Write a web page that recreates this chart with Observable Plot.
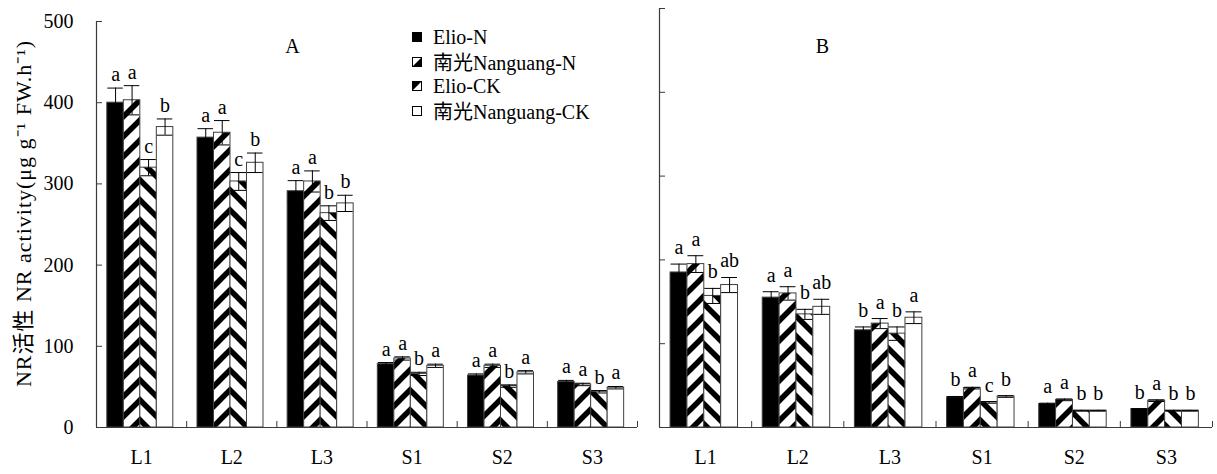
<!DOCTYPE html>
<html>
<head>
<meta charset="utf-8">
<script src="https://cdn.jsdelivr.net/npm/d3@7"></script>
<script src="https://cdn.jsdelivr.net/npm/@observablehq/plot@0.6"></script>
<style>
  body { margin: 0; background: #fff; }
  #wrap { position: relative; width: 1217px; height: 474px; overflow: hidden;
          font-family: "Liberation Serif", "Times New Roman", "Noto Sans CJK SC", serif; color: #000; }
  #wrap > svg.panel { position: absolute; top: 0; }
  .legend { position: absolute; left: 412px; top: 25px; font-size: 20px; }
  .legend .row { display: flex; align-items: center; height: 24.5px; white-space: nowrap; }
  .legend .row svg { margin-right: 11px; flex: none; }
</style>
</head>
<body>
<svg width="0" height="0" style="position:absolute">
  <defs>
    <pattern id="fwd" patternUnits="userSpaceOnUse" width="20" height="20">
      <rect width="20" height="20" fill="#fff"/>
      <path d="M-5,5 L5,-5 M0,20 L20,0 M15,25 L25,15" stroke="#000" stroke-width="5.5"/>
    </pattern>
    <pattern id="bwd" patternUnits="userSpaceOnUse" width="20" height="20">
      <rect width="20" height="20" fill="#fff"/>
      <path d="M-5,15 L5,25 M0,0 L20,20 M15,-5 L25,5" stroke="#000" stroke-width="5.5"/>
    </pattern>
  </defs>
</svg>
<div id="wrap"></div>
<script>
// ---- data ----
const categories = ["L1", "L2", "L3", "S1", "S2", "S3"];
const series = ["Elio-N", "南光Nanguang-N", "Elio-CK", "南光Nanguang-CK"];
const yTicks = [0, 100, 200, 300, 400, 500];
const yLabel = "NR活性 NR activity(μg g⁻¹ FW.h⁻¹)";

// Panel A
const aElioN = [400, 357, 291, 78, 64, 56];
const aNanN = [403, 363, 303, 85, 76, 53];
const aElioCK = [320, 303, 264, 66, 51, 44];
const aNanCK = [370, 326, 276, 76, 68, 49];
const aErrElioN = [18, 11, 13, 2, 2, 2];
const aErrNanN = [18, 15, 13, 2, 2, 1.5];
const aErrElioCK = [10, 11, 9, 2, 1.5, 1.5];
const aErrNanCK = [10, 12, 10, 2, 2, 1.5];
const aLetElioN = ["a", "a", "a", "a", "a", "a"];
const aLetNanN = ["a", "a", "a", "a", "a", "a"];
const aLetElioCK = ["c", "c", "b", "b", "b", "b"];
const aLetNanCK = ["b", "b", "b", "a", "a", "a"];

// Panel B
const bElioN = [185, 155, 116, 36, 28, 22];
const bNanN = [195, 160, 124, 47, 33, 32];
const bElioCK = [157, 135, 112, 30, 20, 20];
const bNanCK = [170, 144, 131, 37, 20, 20];
const bErrElioN = [10, 7, 4, 1, 1, 0.5];
const bErrNanN = [10, 8, 6, 1, 1, 1];
const bErrElioCK = [9, 6, 8, 1, 0.5, 0.5];
const bErrNanCK = [9, 9, 7, 1, 0.5, 0.5];
const bLetElioN = ["a", "a", "b", "b", "a", "b"];
const bLetNanN = ["a", "a", "a", "a", "a", "a"];
const bLetElioCK = ["b", "b", "b", "c", "b", "b"];
const bLetNanCK = ["ab", "ab", "a", "b", "b", "b"];

// ---- styling ----
const fills = ["#000", "url(#fwd)", "url(#bwd)", "#fff"];
const groupPad = 0.12, barW = 0.183;
const font = "'Liberation Serif', 'Times New Roman', 'Noto Sans CJK SC', serif";
const axisColor = "#3a3a3a";

function rows(vals, errs, lets) {
  const out = [];
  categories.forEach((c, ci) => {
    series.forEach((s, si) => {
      const x1 = ci + groupPad + si * barW;
      out.push({cat: c, s, si, x1, x2: x1 + barW, xm: x1 + barW / 2,
                v: vals[si][ci], e: errs[si][ci], l: lets[si][ci], fill: fills[si]});
    });
  });
  return out;
}

const dataA = rows([aElioN, aNanN, aElioCK, aNanCK], [aErrElioN, aErrNanN, aErrElioCK, aErrNanCK],
                   [aLetElioN, aLetNanN, aLetElioCK, aLetNanCK]);
const dataB = rows([bElioN, bNanN, bElioCK, bNanCK], [bErrElioN, bErrNanN, bErrElioCK, bErrNanCK],
                   [bLetElioN, bLetNanN, bLetElioCK, bLetNanCK]);

function panel({data, width, marginLeft, marginRight, marginTop, showLabels, tag, tagDx, tagDy, letterDy}) {
  const height = 474, marginBottom = 47;
  const fw = width - marginLeft - marginRight;
  const fh = height - marginTop - marginBottom;
  const marks = [
    Plot.rect(data, {x1: "x1", x2: "x2", y1: 0, y2: "v", fill: "fill", stroke: "#404040", strokeWidth: 1}),
    Plot.ruleX(data, {x: "xm", y1: d => d.v - d.e, y2: d => d.v + d.e, stroke: "#000", strokeWidth: 1}),
    Plot.ruleY(data, {x1: "x1", x2: "x2", y: d => d.v + d.e, stroke: "#000", strokeWidth: 1, insetLeft: 0.5, insetRight: 0.5}),
    Plot.ruleY(data, {x1: "x1", x2: "x2", y: d => d.v - d.e, stroke: "#000", strokeWidth: 1, insetLeft: 0.5, insetRight: 0.5}),
    Plot.text(data, {x: "xm", y: d => d.v + d.e, text: "l", lineAnchor: "bottom", dy: letterDy, fontSize: 20, fill: "#000"}),
    // axes
    Plot.ruleY([0], {stroke: axisColor, strokeWidth: 1.2}),
    Plot.ruleX([0], {y1: 0, y2: 500, stroke: axisColor, strokeWidth: 1.2}),
    Plot.ruleY(yTicks.slice(1), {y: d => d, stroke: axisColor, insetRight: fw - 6}),
    Plot.ruleX(d3.range(1, categories.length + 1), {x: d => d, stroke: axisColor, insetTop: fh - 6}),
    Plot.text(categories, {x: (d, i) => i + 0.5, text: d => d, frameAnchor: "bottom", lineAnchor: "top", dy: 22, fontSize: 20, fill: "#000"}),
    Plot.text([tag], {frameAnchor: "top-left", dx: tagDx, dy: tagDy, lineAnchor: "middle", textAnchor: "middle", fontSize: 20, fill: "#000"})
  ];
  if (showLabels) {
    marks.push(Plot.text(yTicks, {y: d => d, text: d => String(d), frameAnchor: "left", dx: -23, textAnchor: "end", fontSize: 20, fill: "#000"}));
    marks.push(Plot.text([yLabel], {frameAnchor: "left", dx: -73, dy: -11, rotate: -90, textAnchor: "middle", lineAnchor: "middle", fontSize: 22, fill: "#000"}));
  }
  const svg = Plot.plot({
    width, height, marginLeft, marginRight, marginTop, marginBottom,
    x: {type: "linear", domain: [0, categories.length], axis: null},
    y: {domain: [0, 500], axis: null},
    color: {type: "identity"},
    style: {fontFamily: font, fontSize: "20px", background: "transparent", color: "#000", overflow: "visible"},
    marks
  });
  svg.classList.add("panel");
  svg.querySelectorAll("text").forEach(t => {
    if (t.textContent === yLabel) t.style.letterSpacing = "1px";
  });
  return svg;
}

const wrap = document.getElementById("wrap");
const left = panel({data: dataA, width: 640, marginLeft: 96, marginRight: 3, marginTop: 21, showLabels: true, tag: "A", tagDx: 196, tagDy: 25, letterDy: -7});
left.style.left = "0px";
const right = panel({data: dataB, width: 577, marginLeft: 19, marginRight: 5, marginTop: 8, showLabels: false, tag: "B", tagDx: 163, tagDy: 38, letterDy: -10});
right.style.left = "640px";
wrap.appendChild(left);
wrap.appendChild(right);

// legend
const swatch = [
  '<rect x="0.5" y="0.5" width="9" height="9" fill="#000" stroke="#000"/>',
  '<rect x="0.5" y="0.5" width="9" height="9" fill="#fff" stroke="#000"/><polygon points="1,9 9,1 9,9" fill="#000"/>',
  '<rect x="0.5" y="0.5" width="9" height="9" fill="#fff" stroke="#000"/><polygon points="1,1 9,1 1,9" fill="#000"/>',
  '<rect x="0.5" y="0.5" width="9" height="9" fill="#fff" stroke="#000"/>'
];
const leg = document.createElement("div");
leg.className = "legend";
series.forEach((s, i) => {
  const row = document.createElement("div");
  row.className = "row";
  row.innerHTML = `<svg width="10" height="10">${swatch[i]}</svg><span>${s}</span>`;
  leg.appendChild(row);
});
wrap.appendChild(leg);
</script>
</body>
</html>
